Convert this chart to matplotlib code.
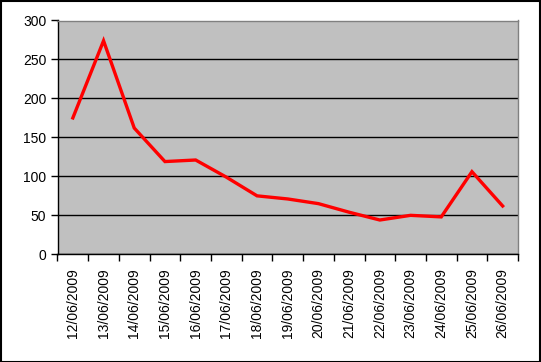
import matplotlib
matplotlib.use("Agg")
import matplotlib.pyplot as plt
import numpy as np
from matplotlib.patches import Rectangle

dates = ["12/06/2009", "13/06/2009", "14/06/2009", "15/06/2009", "16/06/2009",
         "17/06/2009", "18/06/2009", "19/06/2009", "20/06/2009", "21/06/2009",
         "22/06/2009", "23/06/2009", "24/06/2009", "25/06/2009", "26/06/2009"]
values = [175, 274, 162, 119, 121, 99, 75, 71, 65, 54, 44, 50, 48, 106, 62]
yticks = [0, 50, 100, 150, 200, 250, 300]

W, H = 541, 362
fig = plt.figure(figsize=(W / 100, H / 100), dpi=100)
plt.rcParams['font.family'] = ['Liberation Sans', 'DejaVu Sans']

L, R, T, B = 57.5, 518, 20.5, 254.3
ax = fig.add_axes([L / W, 1 - B / H, (R - L) / W, (B - T) / H])
ax.set_facecolor('#C0C0C0')

x = np.arange(len(dates))
ax.plot(x, values, color='#FF0000', lw=2.4, solid_joinstyle='miter', zorder=3)

ax.set_xlim(-0.5, len(dates) - 0.5)
ax.set_ylim(0, 300)
ax.set_yticks(yticks)
ax.set_yticklabels([str(v) for v in yticks], fontsize=10)
ax.yaxis.grid(True, color='black', lw=1)
ax.set_axisbelow(True)

ax.set_xticks(x)
ax.set_xticklabels(dates, rotation=90, fontsize=10)
ax.set_xticks(np.arange(-0.5, len(dates), 1), minor=True)
ax.tick_params(axis='x', which='major', length=0, pad=10)
ax.tick_params(axis='x', which='minor', length=5, width=1, color='black', direction='out')
ax.tick_params(axis='y', length=5, width=1, color='black', direction='out', pad=3)

for s in ['top', 'right']:
    ax.spines[s].set_color('#808080')
    ax.spines[s].set_linewidth(1)
for s in ['left', 'bottom']:
    ax.spines[s].set_color('black')
    ax.spines[s].set_linewidth(1)

fig.patches.append(Rectangle((0.5 / W, 0.5 / H), 1 - 1.5 / W, 1 - 1.5 / H,
                             transform=fig.transFigure, fill=False,
                             edgecolor='black', lw=1.5))

fig.savefig('out.png', dpi=100)
